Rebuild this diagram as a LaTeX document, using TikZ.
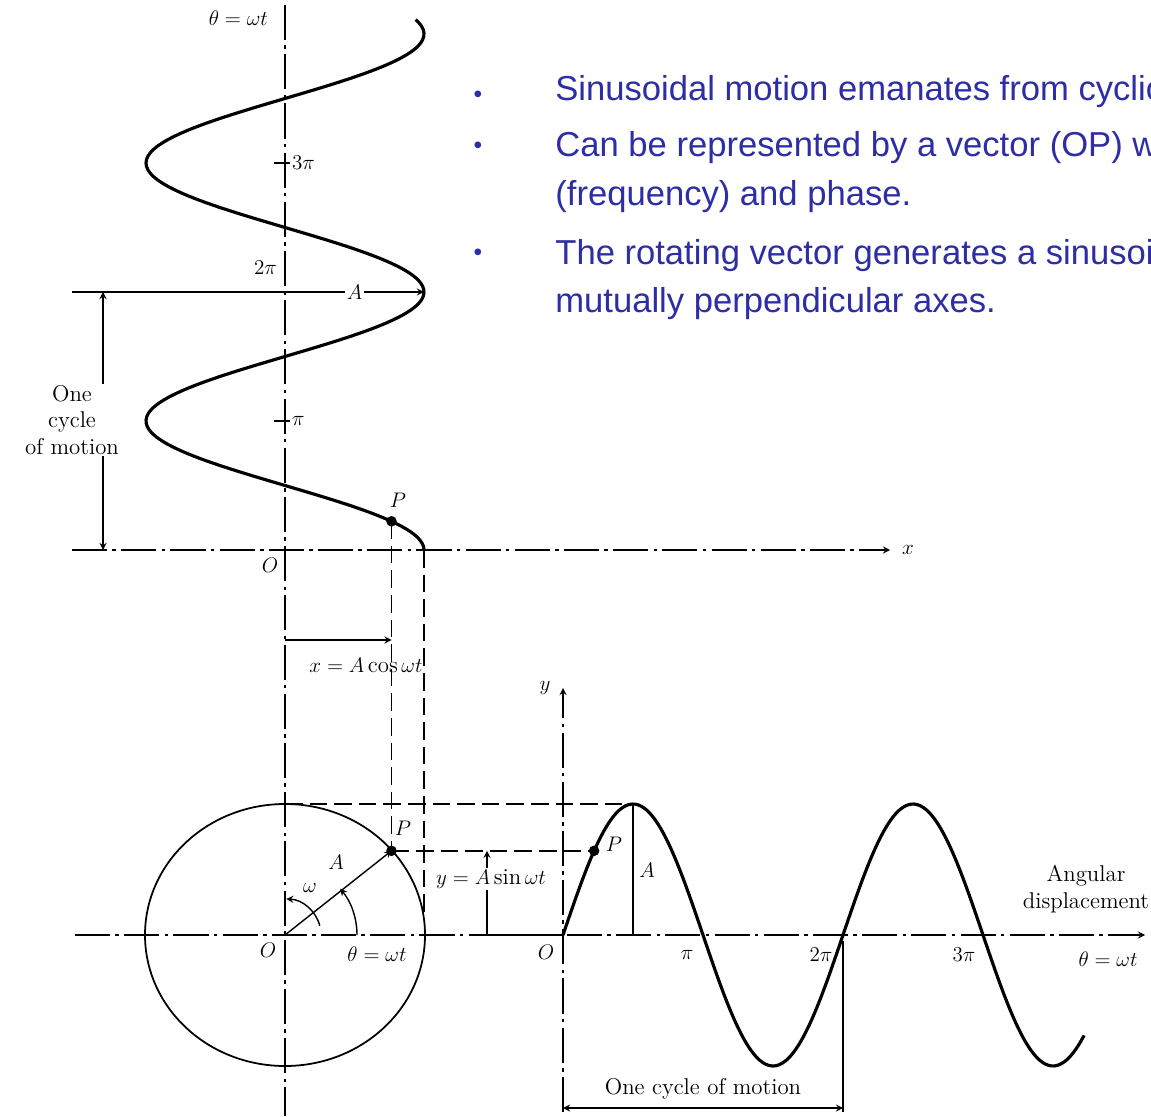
\documentclass[tikz,border=0pt]{standalone}
\usepackage{fontspec}
\usepackage{amsmath}
\usetikzlibrary{calc, positioning}
\newfontfamily\slidefont{Liberation Sans}
\definecolor{slideblue}{RGB}{45,45,165}

\begin{document}
\begin{tikzpicture}[x=0.02cm, y=0.02cm, >=stealth,
  ax/.style={line width=0.8pt, dash pattern=on 20pt off 3pt on 2pt off 3pt},
  dsh/.style={line width=0.9pt, dash pattern=on 10pt off 4pt},
  curve/.style={line width=1.8pt},
  dimn/.style={line width=0.8pt},
  lbl/.style={inner sep=1pt, font=\fontsize{13}{15}\selectfont},
  dot/.style={circle, fill, inner sep=0pt, minimum size=6pt},
  txt/.style={anchor=base west, inner sep=0pt, text=slideblue, font=\slidefont\fontsize{19.7}{24}\selectfont},
  blt/.style={text=slideblue, inner sep=0pt, font=\slidefont\fontsize{14}{16}\selectfont}]
\useasboundingbox (0,0) rectangle (1151,1116);
\clip (0,0) rectangle (1151,1116);
% points
\coordinate (O1) at (285,566);
\coordinate (Oc) at (285,181);
\coordinate (Os) at (563,181);
\coordinate (Pt) at (391.5,594.7);
\coordinate (Pc) at (391.5,265.2);
\coordinate (Ps) at (594.1,265.2);
\coordinate (Q) at (424,566);
\coordinate (Pk) at (633,312);
\coordinate (Ct) at (285,312);
% axes
\draw[ax] (285,1111) -- (285,0);
\draw[ax, ->] (72,566) -- (890,566);
\draw[ax, ->] (75,181) -- (1145,181);
\draw[ax, ->] (563,4) -- (563,428);
\node[lbl, anchor=west] (xa) at (900,566) {$x$};
\node[lbl] (ya) at (545,428) {$y$};
% top curve
\draw[curve] plot[domain=0:740, samples=160, smooth] ({285+139*cos(\x)}, {566+\x/360*258});
\node[lbl, anchor=east] (th1) at (270,1098) {$\theta = \omega t$};
\draw[dimn] (274,953) -- (290,953);
\node[lbl, anchor=west] (t3) at (290,953) {$3\pi$};
\draw[dimn] (274,695) -- (290,695);
\node[lbl, anchor=west] (t1) at (290,695) {$\pi$};
\node[lbl, anchor=east] (t2) at (279,848) {$2\pi$};
\draw[dimn] (72,824) -- (285,824);
\draw[dimn, ->] (285,824) -- node[lbl, fill=white] (Alab) {$A$} (424,824);
\draw[dimn, <->] (103,824) -- (103,566);
\node[lbl, fill=white, align=center] (cyc1) at (72,696) {One\\cycle\\of motion};
\node[lbl] (o1) at (270,551) {$O$};
\node[dot] (p1) at (Pt) {};
\node[lbl] (p1l) at (398,616) {$P$};
\draw[dsh] (Pt) -- (Pc);
\draw[dsh] (Q) -- (424,197);
\draw[dimn, ->] (285,476) -- (391.5,476);
\node[lbl] (xl) at (366,451) {$x = A\cos\omega t$};
% circle
\draw[line width=1pt] (Oc) ellipse [x radius=140, y radius=131];
\draw[dimn, ->] (Oc) -- (Pc);
\node[lbl] (al) at (336,254) {$A$};
\draw[dimn, ->] (Oc) ++(15:36) arc[start angle=15, end angle=88, radius=36];
\node[lbl] (wl) at (310,228) {$\omega$};
\draw[dimn, ->] (Oc) ++(0:72) arc[start angle=0, end angle=40, radius=72];
\node[lbl] (thl) at (377,162) {$\theta = \omega t$};
\node[lbl] (o2) at (268,166) {$O$};
\node[dot] (p2) at (Pc) {};
\node[lbl] (p2l) at (403,288) {$P$};
\draw[dsh] (Ct) -- (Pk);
\draw[dsh] (Pc) -- (Ps);
\draw[dimn, ->] (487,181) -- (487,265.2);
\draw[dimn] (487,181) -- (Os);
\node[lbl, fill=white] (yl) at (491,237) {$y = A\sin\omega t$};
% lower curve
\draw[curve] plot[domain=0:670, samples=160, smooth] ({563+\x/360*280}, {181+131*sin(\x)});
\node[dot] (p3) at (Ps) {};
\node[lbl] (p3l) at (614,272) {$P$};
\draw[dimn] (633,181) -- (Pk);
\node[lbl] (a2) at (647,246) {$A$};
\node[lbl] (o3) at (546,164) {$O$};
\node[lbl] (s1) at (687,161) {$\pi$};
\node[lbl] (s2) at (821,161) {$2\pi$};
\node[lbl] (s3) at (964,161) {$3\pi$};
\node[lbl, align=center] (ang) at (1086,227) {Angular\\displacement};
\node[lbl] (th2) at (1108,157) {$\theta = \omega t$};
\draw[dimn] (843,175) -- (843,4);
\draw[dimn, <->] (563,8) -- (843,8);
\node[lbl] (cyc2) at (703,27) {One cycle of motion};
% bullet text
\node[blt] (b1) at (478,1019) {•};
\node[blt] (b2) at (478,968) {•};
\node[blt] (b3) at (478,861) {•};
\node[txt] (l1) at (555,1015) {Sinusoidal motion emanates from cyclic};
\node[txt] (l2) at (555,959) {Can be represented by a vector (OP) w};
\node[txt] (l3) at (555,910) {(frequency) and phase.};
\node[txt] (l4) at (555,851) {The rotating vector generates a sinusoid};
\node[txt] (l5) at (555,803) {mutually perpendicular axes.};
\end{tikzpicture}
\end{document}
